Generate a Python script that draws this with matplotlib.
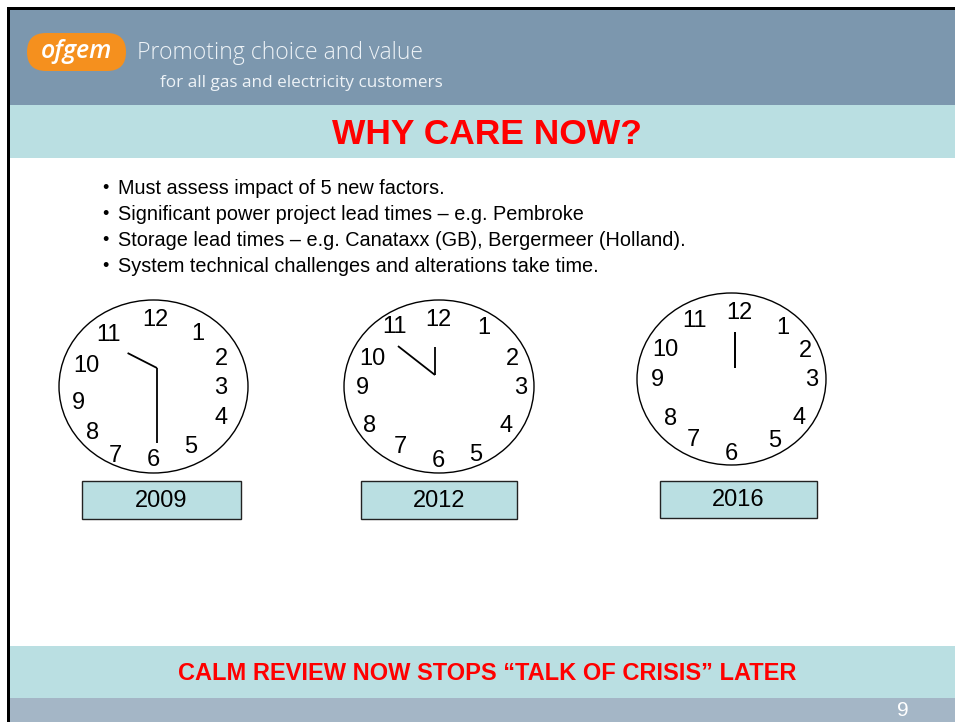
import numpy as np
import matplotlib
matplotlib.use("Agg")
import matplotlib.pyplot as plt
from matplotlib.patches import Ellipse, Rectangle, FancyBboxPatch

# slide data
title = "WHY CARE NOW?"
bullets = [
    "Must assess impact of 5 new factors.",
    "Significant power project lead times \u2013 e.g. Pembroke",
    "Storage lead times \u2013 e.g. Canataxx (GB), Bergermeer (Holland).",
    "System technical challenges and alterations take time.",
]
years = ["2009", "2012", "2016"]
hour_labels = [str(h) for h in range(1, 13)]
# hand directions in degrees clockwise from 12 o'clock
hour_hand_deg = [297, 308, 0]
minute_hand_deg = [180, 0, 0]
footer = "CALM REVIEW NOW STOPS \u201cTALK OF CRISIS\u201d LATER"
page_no = "9"

# layout (pixel coords, y down)
W, H = 955, 722
clock_centres = [(153.5, 386.5), (439, 386.5), (731.5, 379)]
clock_sizes = [(189, 173), (190, 173), (189, 172)]
pivots = [(157, 368), (435, 375), (735, 368)]
hour_len = [33, 47, 36]
minute_len = [75, 28, 36]
year_boxes = [(82, 481, 159, 38), (361, 481, 156, 38), (660, 481, 157, 37)]
# label positions for hours 1..12 on each clock
label_pos = [
    [(198, 334), (221, 359), (221, 388), (221, 418), (191, 447), (153, 460),
     (115, 456), (93, 433), (78, 403), (86, 366), (108, 335), (155, 320)],
    [(484, 328), (512, 359), (521, 388), (506, 426), (476, 455), (438, 461),
     (400, 447), (370, 426), (362, 388), (372, 359), (394, 327), (438, 320)],
    [(783, 328), (805, 351), (812, 380), (799, 418), (775, 441), (731, 454),
     (693, 440), (671, 419), (657, 380), (665, 350), (694, 321), (739, 313)],
]

HEADER = "#7c97ae"
BAND = "#badfe2"
STRIP = "#a4b6c6"
RED = "#ff0000"
ARIAL = "Liberation Sans"

fig = plt.figure(figsize=(W / 100, H / 100), dpi=100)
ax = fig.add_axes([0, 0, 1, 1])
ax.set_xlim(0, W)
ax.set_ylim(H, 0)
ax.axis("off")

# frame and bands
ax.add_patch(Rectangle((7, 7), W - 7, H - 7, facecolor="black", lw=0))
ax.add_patch(Rectangle((10, 10), W - 10, 95, facecolor=HEADER, lw=0))
ax.add_patch(Rectangle((10, 105), W - 10, 53, facecolor=BAND, lw=0))
ax.add_patch(Rectangle((10, 158), W - 10, 488, facecolor="white", lw=0))
ax.add_patch(Rectangle((10, 646), W - 10, 52, facecolor=BAND, lw=0))
ax.add_patch(Rectangle((10, 698), W - 10, 24, facecolor=STRIP, lw=0))

# header logo
ax.add_patch(FancyBboxPatch((27, 33), 99, 38, boxstyle="round,pad=0,rounding_size=19",
                            facecolor="#f5901e", edgecolor="none"))
ax.text(77, 51, "ofgem", color="white", fontsize=18, fontstyle="italic",
        fontweight="semibold", family="Open Sans", ha="center", va="center")
ax.text(137, 53, "Promoting choice and value", color="#eef3f7", fontsize=16.6,
        fontweight="light", family="Open Sans", ha="left", va="center")
ax.text(160, 83, "for all gas and electricity customers", color="#eef3f7",
        fontsize=12.3, family="Open Sans", ha="left", va="center")

# title
ax.text(487, 134, title, color=RED, fontsize=25.5, fontweight="bold", family=ARIAL,
        ha="center", va="center")

# bullets
for i, line in enumerate(bullets):
    base = 194 + i * 26
    ax.text(105, base - 1, "\u2022", fontsize=13, family=ARIAL, ha="center", va="baseline")
    ax.text(118, base, line, fontsize=14.3, family=ARIAL, ha="left", va="baseline")

# clocks
for c in range(len(years)):
    cx, cy = clock_centres[c]
    w, h = clock_sizes[c]
    ax.add_patch(Ellipse((cx, cy), w, h, facecolor="white", edgecolor="black", lw=1.0))
    for k, lab in enumerate(hour_labels):
        lx, ly = label_pos[c][k]
        ax.text(lx, ly, lab, fontsize=17, family=ARIAL, ha="center", va="center")
    px, py = pivots[c]
    for ang, ln in ((hour_hand_deg[c], hour_len[c]), (minute_hand_deg[c], minute_len[c])):
        a = np.deg2rad(ang)
        ax.plot([px, px + ln * np.sin(a)], [py, py - ln * np.cos(a)],
                color="black", lw=1.3, solid_capstyle="butt")
    bx, by, bw, bh = year_boxes[c]
    ax.add_patch(Rectangle((bx, by), bw, bh, facecolor=BAND, edgecolor="#222222", lw=1.0))
    ax.text(bx + bw / 2, by + bh / 2 + 1, years[c], fontsize=17, family=ARIAL,
            ha="center", va="center")

# footer
ax.text(487, 673, footer, color=RED, fontsize=17, fontweight="bold", family=ARIAL,
        ha="center", va="center")
ax.text(903, 710, page_no, color="white", fontsize=15, family=ARIAL,
        ha="center", va="center")

fig.savefig("out.png", dpi=100)
